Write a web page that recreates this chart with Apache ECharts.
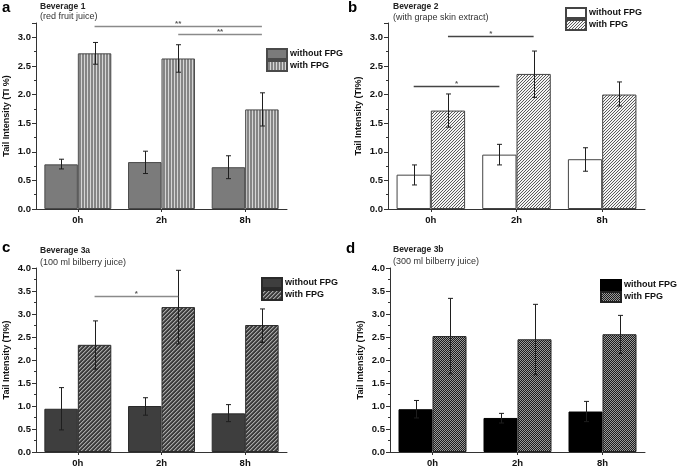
<!DOCTYPE html>
<html><head><meta charset="utf-8">
<script src="https://cdn.jsdelivr.net/npm/echarts@6/dist/echarts.min.js"></script>
<style>html,body{margin:0;padding:0;background:#fff}#c{width:685px;height:468px}</style>
</head><body><div id="c"></div>
<script>
// ---------- data ----------
const categories = ['0h', '2h', '8h'];
const seriesNames = ['without FPG', 'with FPG'];

// Panel a – Beverage 1 (red fruit juice)
const aWithout = [0.78, 0.82, 0.73];
const aWithoutLo = [0.70, 0.62, 0.53];
const aWithoutHi = [0.87, 1.01, 0.93];
const aWith = [2.72, 2.63, 1.74];
const aWithLo = [2.53, 2.39, 1.45];
const aWithHi = [2.91, 2.87, 2.03];
// significance: [fromCat, fromSide, toCat, toSide, y]
const aSig = [[0, 1, 2, 1, 3.20], [1, 1, 2, 1, 3.06]];
const aSigLabels = ['**', '**'];

// Panel b – Beverage 2 (with grape skin extract)
const bWithout = [0.60, 0.95, 0.87];
const bWithoutLo = [0.42, 0.77, 0.66];
const bWithoutHi = [0.77, 1.13, 1.07];
const bWith = [1.72, 2.36, 2.00];
const bWithLo = [1.43, 1.95, 1.80];
const bWithHi = [2.01, 2.76, 2.22];
const bSig = [[0, -1, 1, -1, 2.15], [0, 1, 1, 1, 3.03]];
const bSigLabels = ['*', '*'];

// Panel c – Beverage 3a (100 ml bilberry juice)
const cWithout = [0.94, 1.00, 0.84];
const cWithoutLo = [0.48, 0.80, 0.66];
const cWithoutHi = [1.40, 1.18, 1.03];
const cWith = [2.33, 3.15, 2.76];
const cWithLo = [1.80, 2.35, 2.38];
const cWithHi = [2.85, 3.95, 3.11];
const cSig = [[0, 1, 1, 1, 3.40]];
const cSigLabels = ['*'];

// Panel d – Beverage 3b (300 ml bilberry juice)
const dWithout = [0.93, 0.74, 0.88];
const dWithoutLo = [0.74, 0.63, 0.66];
const dWithoutHi = [1.12, 0.84, 1.10];
const dWith = [2.52, 2.45, 2.56];
const dWithLo = [1.70, 1.68, 2.14];
const dWithHi = [3.34, 3.21, 2.97];
const dSig = [];
const dSigLabels = [];

const yTicks = [0, 0.5, 1.0, 1.5, 2.0, 2.5, 3.0, 3.5, 4.0];

// ---------- patterns ----------
function makePattern(w, h, fn) {
  const cv = document.createElement('canvas');
  cv.width = w; cv.height = h;
  const ctx = cv.getContext('2d');
  for (let y = 0; y < h; y++) for (let x = 0; x < w; x++) {
    ctx.fillStyle = fn(x, y);
    ctx.fillRect(x, y, 1, 1);
  }
  return { image: cv, repeat: 'repeat' };
}
const patStripes = makePattern(3, 1, (x) => x === 0 ? '#d6d6d6' : '#858585');
const patHatchLight = makePattern(3, 3, (x, y) => ((x + y) % 3 === 2) ? '#5a5a5a' : '#f4f4f4');
const patHatchDark = makePattern(4, 4, (x, y) => {
  const k = (x + y) % 4;
  return k === 3 ? '#a8a8a8' : (k === 0 ? '#6a6a6a' : '#3c3c3c');
});
const patChecker = makePattern(2, 2, (x, y) => ((x + y) % 2 === 0) ? '#9a9a9a' : '#1c1c1c');

const FONT = '"Liberation Sans", Arial, sans-serif';

// ---------- panels ----------
const panels = [
  { key: 'a', grid: { left: 36, top: 23, width: 251, height: 186 }, max: 3.25, yName: 'Tail Intensity (TI %)',
    wo: [aWithout, aWithoutLo, aWithoutHi], w: [aWith, aWithLo, aWithHi], sig: aSig, sigLab: aSigLabels, sigColor: '#8a8a8a',
    woStyle: { color: '#7b7b7b', borderColor: '#4a4a4a' }, wStyle: { color: patStripes, borderColor: '#4a4a4a' },
    legend: { left: 266, top: 48 } },
  { key: 'b', grid: { left: 388, top: 23, width: 257, height: 186 }, max: 3.25, yName: 'Tail Intensity (TI%)',
    wo: [bWithout, bWithoutLo, bWithoutHi], w: [bWith, bWithLo, bWithHi], sig: bSig, sigLab: bSigLabels, sigColor: '#444',
    woStyle: { color: '#ffffff', borderColor: '#444' }, wStyle: { color: patHatchLight, borderColor: '#444' },
    legend: { left: 565, top: 7 } },
  { key: 'c', grid: { left: 36, top: 268, width: 251, height: 185 }, max: 4.0, yName: 'Tail Intensity (TI%)',
    wo: [cWithout, cWithoutLo, cWithoutHi], w: [cWith, cWithLo, cWithHi], sig: cSig, sigLab: cSigLabels, sigColor: '#8a8a8a',
    woStyle: { color: '#3e3e3e', borderColor: '#2a2a2a' }, wStyle: { color: patHatchDark, borderColor: '#2a2a2a' },
    legend: { left: 261, top: 277 } },
  { key: 'd', grid: { left: 390, top: 268, width: 255, height: 185 }, max: 4.0, yName: 'Tail Intensity (TI%)',
    wo: [dWithout, dWithoutLo, dWithoutHi], w: [dWith, dWithLo, dWithHi], sig: dSig, sigLab: dSigLabels, sigColor: '#444',
    woStyle: { color: '#000000', borderColor: '#000' }, wStyle: { color: patChecker, borderColor: '#222' },
    legend: { left: 600, top: 279 } }
];

function errRender(side) {
  return function (params, api) {
    const idx = api.value(0);
    const lo = api.coord([idx, api.value(1)]);
    const hi = api.coord([idx, api.value(2)]);
    const bw = api.size([1, 0])[0];
    const x = Math.round(lo[0] + side * bw * 0.2) + 0.5;
    const cap = 2.5;
    const st = { stroke: '#1e1e1e', lineWidth: 1 };
    return { type: 'group', children: [
      { type: 'line', shape: { x1: x, y1: lo[1], x2: x, y2: hi[1] }, style: st },
      { type: 'line', shape: { x1: x - cap, y1: hi[1], x2: x + cap, y2: hi[1] }, style: st },
      { type: 'line', shape: { x1: x - cap, y1: lo[1], x2: x + cap, y2: lo[1] }, style: st }
    ] };
  };
}
function sigRender(labels, color) {
  return function (params, api) {
    const bw = api.size([1, 0])[0];
    const p1 = api.coord([api.value(0), api.value(4)]);
    const p2 = api.coord([api.value(2), api.value(4)]);
    const x1 = p1[0] + api.value(1) * bw * 0.2;
    const x2 = p2[0] + api.value(3) * bw * 0.2;
    const y = Math.round(p1[1]) + 0.5;
    return { type: 'group', children: [
      { type: 'line', shape: { x1: x1, y1: y, x2: x2, y2: y }, style: { stroke: color, lineWidth: 1.3 } },
      { type: 'text', x: (x1 + x2) / 2, y: y - 3, style: { text: labels[params.dataIndex], fill: '#555',
        font: 'bold 8px ' + FONT, align: 'center', verticalAlign: 'middle' } }
    ] };
  };
}

const option = { backgroundColor: '#fff', animation: false, grid: [], xAxis: [], yAxis: [], series: [], legend: [], graphic: [] };

panels.forEach((p, i) => {
  option.grid.push(Object.assign({}, p.grid));
  option.xAxis.push({
    type: 'category', gridIndex: i, data: categories,
    axisLine: { lineStyle: { color: '#333', width: 1 } },
    axisTick: { show: true, alignWithLabel: true, length: 3, lineStyle: { color: '#333' } },
    axisLabel: { color: '#111', fontFamily: FONT, fontWeight: 'bold', fontSize: 9.5, margin: 6 }
  });
  option.yAxis.push({
    type: 'value', gridIndex: i, min: 0, max: p.max, interval: 0.5,
    name: p.yName, nameLocation: 'middle', nameGap: 25,
    nameTextStyle: { color: '#111', fontFamily: FONT, fontWeight: 'bold', fontSize: 9 },
    splitLine: { show: false },
    axisLine: { show: true, lineStyle: { color: '#333', width: 1 } },
    axisTick: { show: true, length: 4, lineStyle: { color: '#333' } },
    minorTick: { show: true, splitNumber: 2, length: 2, lineStyle: { color: '#333' } },
    axisLabel: { color: '#111', fontFamily: FONT, fontWeight: 'bold', fontSize: 9.5, margin: 5,
      formatter: (v) => yTicks.indexOf(Math.round(v * 100) / 100) >= 0 ? v.toFixed(1) : '' }
  });
  const nWo = p.key + '|' + seriesNames[0];
  const nW = p.key + '|' + seriesNames[1];
  option.series.push({
    name: nWo, type: 'bar', xAxisIndex: i, yAxisIndex: i, data: p.wo[0], barWidth: '40%', barGap: '0%',
    itemStyle: Object.assign({ borderWidth: 1 }, p.woStyle), z: 2
  });
  option.series.push({
    name: nW, type: 'bar', xAxisIndex: i, yAxisIndex: i, data: p.w[0], barWidth: '40%', barGap: '0%',
    itemStyle: Object.assign({ borderWidth: 1 }, p.wStyle), z: 2
  });
  option.series.push({
    type: 'custom', xAxisIndex: i, yAxisIndex: i, renderItem: errRender(-1), clip: false, z: 5,
    data: categories.map((c, k) => [k, p.wo[1][k], p.wo[2][k]]), encode: { x: 0, y: [1, 2] }, silent: true
  });
  option.series.push({
    type: 'custom', xAxisIndex: i, yAxisIndex: i, renderItem: errRender(1), clip: false, z: 5,
    data: categories.map((c, k) => [k, p.w[1][k], p.w[2][k]]), encode: { x: 0, y: [1, 2] }, silent: true
  });
  if (p.sig.length) option.series.push({
    type: 'custom', xAxisIndex: i, yAxisIndex: i, renderItem: sigRender(p.sigLab, p.sigColor), clip: false, z: 5,
    data: p.sig, encode: { x: [0, 2], y: 4 }, silent: true
  });
  option.legend.push({
    left: p.legend.left, top: p.legend.top, orient: 'vertical', padding: 0, itemGap: 0,
    itemWidth: 20, itemHeight: 10, icon: 'rect', selectedMode: false, data: [nWo, nW],
    formatter: (n) => n.split('|')[1],
    textStyle: { color: '#111', fontFamily: FONT, fontWeight: 'bold', fontSize: 9, lineHeight: 10, padding: [0, 0, 0, -2] }
  });
});

// titles
const titles = [
  { letter: 'a', lx: 2, ly: 8, tx: 40, ty: 6.3, sy: 16.7, t: 'Beverage 1', s: '(red fruit juice)' },
  { letter: 'b', lx: 348, ly: 7.5, tx: 393, ty: 6.3, sy: 18, t: 'Beverage 2', s: '(with grape skin extract)' },
  { letter: 'c', lx: 2, ly: 248, tx: 40, ty: 250.5, sy: 262.5, t: 'Beverage 3a', s: '(100 ml bilberry juice)' },
  { letter: 'd', lx: 346, ly: 248.5, tx: 393, ty: 250, sy: 262, t: 'Beverage 3b', s: '(300 ml bilberry juice)' }
];
titles.forEach((t) => {
  option.graphic.push({ type: 'text', x: t.lx, y: t.ly, style: { text: t.letter, font: 'bold 15px ' + FONT, fill: '#000', verticalAlign: 'middle' } });
  option.graphic.push({ type: 'text', x: t.tx, y: t.ty, style: { text: t.t, font: 'bold 8.5px ' + FONT, fill: '#222', verticalAlign: 'middle' } });
  option.graphic.push({ type: 'text', x: t.tx, y: t.sy, style: { text: t.s, font: '9px ' + FONT, fill: '#333', verticalAlign: 'middle' } });
});

const chart = echarts.init(document.getElementById('c'), null, { renderer: 'canvas' });
chart.setOption(option);
</script>
</body></html>
